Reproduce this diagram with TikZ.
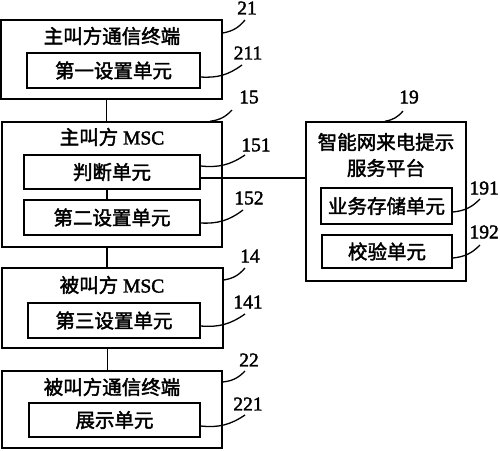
\documentclass[tikz,border=0pt]{standalone}
\usepackage{fontspec}
\setmainfont{Liberation Serif}[FakeBold=2]
\newfontfamily\cjk{Noto Sans CJK SC}[FakeBold=2]
\begin{document}
\begin{tikzpicture}[x=1pt,y=-1pt,
  box/.style={draw,line width=1.5pt,inner sep=0pt,font=\fontsize{19.5}{22}\cjk},
  ttl/.style={inner sep=0pt,font=\fontsize{19.5}{22}\selectfont},
  num/.style={inner sep=0pt,font=\fontsize{19.5}{22}\selectfont},
  leader/.style={line width=1.3pt,bend right=20},
  conn/.style={line width=1.5pt}]
\useasboundingbox (0,0) rectangle (500,450);
% outer boxes
\node[box,minimum width=221pt,minimum height=79pt] (n21) at (111.5,59.5) {};
\node[box,minimum width=220pt,minimum height=125pt] (n15) at (112,184.5) {};
\node[box,minimum width=221pt,minimum height=80pt] (n14) at (112.5,308) {};
\node[box,minimum width=220pt,minimum height=77pt] (n22) at (112,409.5) {};
\node[box,minimum width=160pt,minimum height=159pt] (n19) at (386,201.5) {};
% titles
\node[ttl] (t21) at (112,36) {\cjk 主叫方通信终端};
\node[ttl] (t15) at (112,137) {{\cjk 主叫方} MSC};
\node[ttl] (t14) at (112,285) {{\cjk 被叫方} MSC};
\node[ttl] (t22) at (112,387) {\cjk 被叫方通信终端};
\node[ttl] (t19a) at (386,142) {\cjk 智能网来电提示};
\node[ttl] (t19b) at (386,168) {\cjk 服务平台};
% inner boxes
\node[box,minimum width=173pt,minimum height=35pt] (n211) at (113.5,70.5) {第一设置单元};
\node[box,minimum width=176pt,minimum height=34pt] (n151) at (112,172) {判断单元};
\node[box,minimum width=176pt,minimum height=35pt] (n152) at (112,217.5) {第二设置单元};
\node[box,minimum width=172pt,minimum height=35pt] (n141) at (114,320.5) {第三设置单元};
\node[box,minimum width=171pt,minimum height=34pt] (n221) at (114.5,420) {展示单元};
\node[box,minimum width=131pt,minimum height=36pt] (n191) at (386.5,206) {业务存储单元};
\node[box,minimum width=130pt,minimum height=33pt] (n192) at (387,251.5) {校验单元};
% connectors
\draw[conn] ([xshift=-5pt]n21.south) -- ([xshift=-5pt]n21.south |- n15.north);
\draw[conn] ([xshift=-5pt]n151.south) -- ([xshift=-5pt]n151.south |- n152.north);
\draw[conn] ([xshift=-5pt]n15.south) -- ([xshift=-5pt]n15.south |- n14.north);
\draw[conn] ([xshift=-5pt]n14.south) -- ([xshift=-5pt]n14.south |- n22.north);
\draw[conn] ([yshift=-6pt]n151.east) -- ([yshift=-6pt]n151.east -| n19.west);
% labels
\node[num] (l21) at (247,8) {21};
\node[num] (l211) at (248,53) {211};
\node[num] (l15) at (249,97) {15};
\node[num] (l151) at (256,145) {151};
\node[num] (l152) at (249,198) {152};
\node[num] (l14) at (250,256) {14};
\node[num] (l141) at (248,302) {141};
\node[num] (l22) at (249,360) {22};
\node[num] (l221) at (248,404) {221};
\node[num] (l19) at (409,97) {19};
\node[num,anchor=east] (l191) at (499,188) {191};
\node[num,anchor=east] (l192) at (499,232) {192};
% leader ends
\coordinate (e21) at (245,20);
\coordinate (e211) at (242,65);
\coordinate (e15) at (232,110);
\coordinate (e151) at (245,155);
\coordinate (e152) at (243,210);
\coordinate (e14) at (245,268);
\coordinate (e141) at (245,314);
\coordinate (e22) at (245,371);
\coordinate (e221) at (245,415);
\coordinate (e19) at (403,111);
\coordinate (e191) at (480,199);
\coordinate (e192) at (480,245);
% leaders
\draw[leader] (n21.east |- 0,33) to (e21);
\draw[leader] (n211.east |- 0,77) to (e211);
\draw[leader] (n15.north -| 210,0) to (e15);
\draw[leader] (n151.east |- 0,166) to (e151);
\draw[leader] (n152.east |- 0,223) to (e152);
\draw[leader] (n14.east |- 0,280) to (e14);
\draw[leader] (n141.east |- 0,326) to (e141);
\draw[leader] (n22.east |- 0,382) to (e22);
\draw[leader] (n221.east |- 0,426) to (e221);
\draw[leader] (n19.north -| 385,0) to (e19);
\draw[leader] (n191.east |- 0,212) to (e191);
\draw[leader] (n192.east |- 0,258) to (e192);
\end{tikzpicture}
\end{document}
